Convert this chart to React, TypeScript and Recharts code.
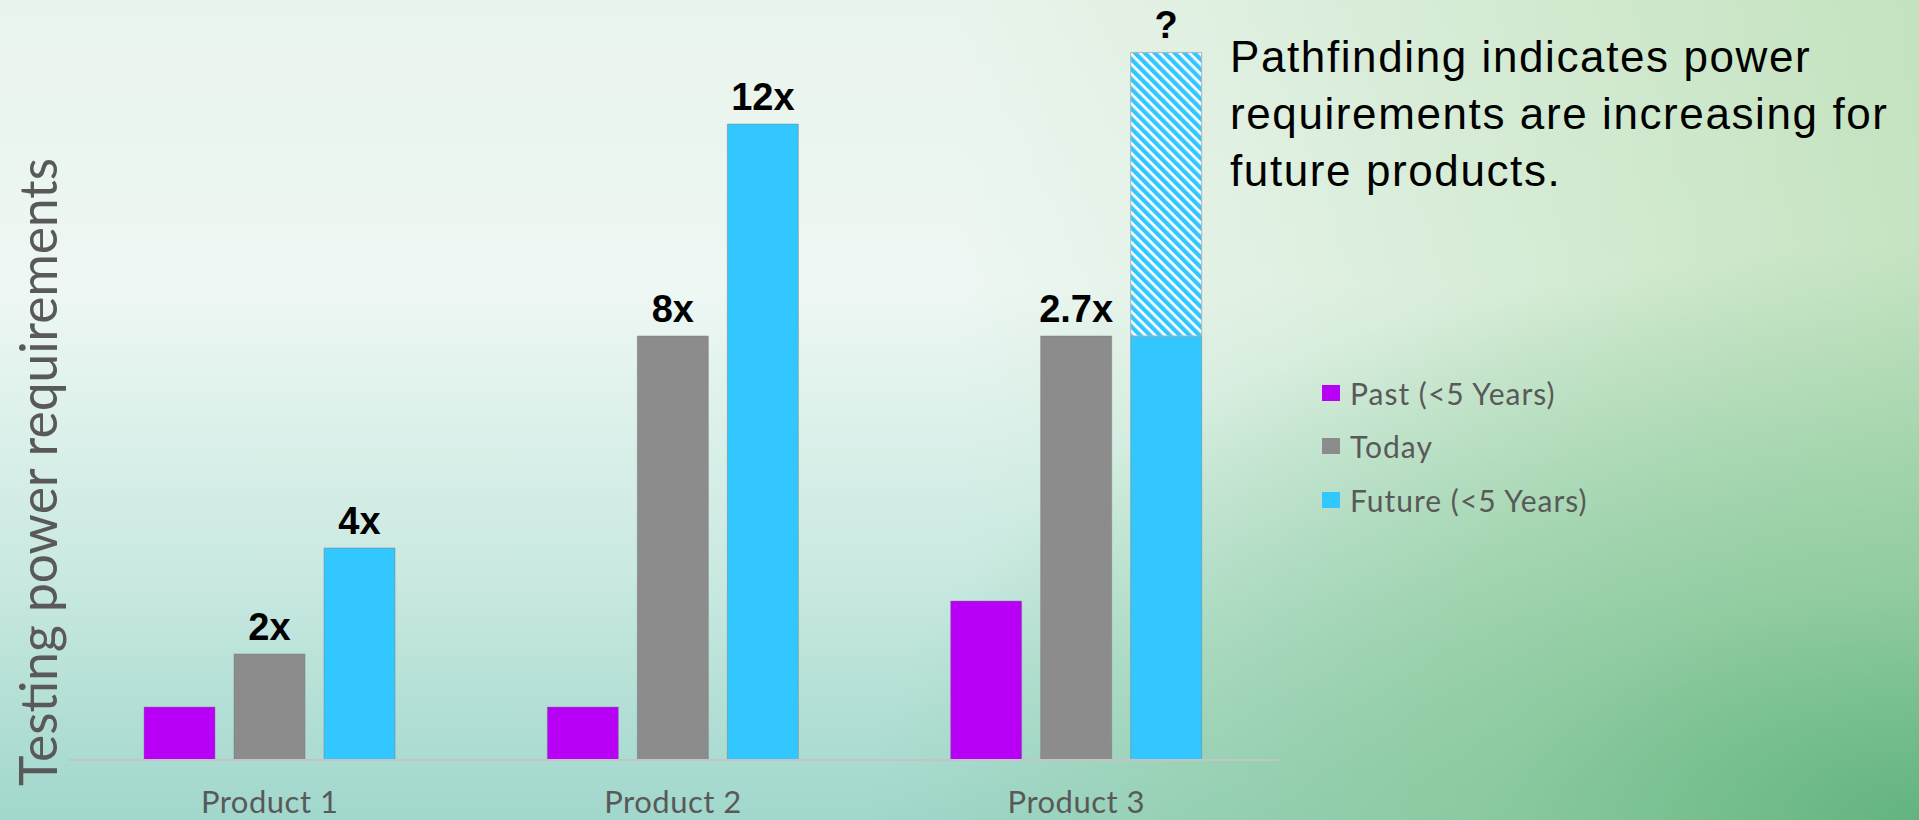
import React from "react";
import {
  BarChart,
  Bar,
  XAxis,
  YAxis,
  Legend,
  LabelList,
} from "recharts";

const categories = ["Product 1", "Product 2", "Product 3"];
const seriesNames = ["Past (<5 Years)", "Today", "Future (<5 Years)"];
const pastValues = [1, 1, 3];
const todayValues = [2, 8, 8];
const futureValues = [4, 12, 8];
const futureUnknownValues = [0, 0, 5.35];
const todayLabels = ["2x", "8x", "2.7x"];
const futureLabels = ["4x", "12x", ""];
const unknownLabels = ["", "", "?"];

const data = categories.map((name, i) => ({
  name,
  past: pastValues[i],
  today: todayValues[i],
  future: futureValues[i],
  unknown: futureUnknownValues[i],
  todayLabel: todayLabels[i],
  futureLabel: futureLabels[i],
  unknownLabel: unknownLabels[i],
}));

const PURPLE = "#b900f6";
const GREY = "#8c8c8c";
const BLUE = "#33c7ff";
const LATO = "Lato, 'Open Sans', sans-serif";
const ARIAL = "'Liberation Sans', Arial, sans-serif";
const LEGEND_WIDTH = 400;

const barLabelStyle = {
  fill: "#000",
  fontSize: 38,
  fontWeight: 700,
  fontFamily: ARIAL,
};

const renderLegend = ({ payload }: any) => {
  const items = (payload || [])
    .filter((p: any) => seriesNames.includes(p.value))
    .sort((a: any, b: any) => seriesNames.indexOf(a.value) - seriesNames.indexOf(b.value));
  return (
    <div style={{ fontFamily: LATO, fontSize: 30, letterSpacing: 1, color: "#595959" }}>
      {items.map((p: any) => (
        <div key={p.value} style={{ display: "flex", alignItems: "center", height: 53.5 }}>
          <span
            style={{
              display: "inline-block",
              width: 18,
              height: 16,
              background: p.color,
              marginRight: 10,
            }}
          />
          <span>{p.value}</span>
        </div>
      ))}
    </div>
  );
};

const renderYLabel = () => (
  <text
    x={57}
    y={472}
    transform="rotate(-90 57 472)"
    textAnchor="middle"
    fill="#595959"
    fontSize={51.5}
    fontFamily={LATO}
  >
    Testing power requirements
  </text>
);

export default function App() {
  return (
    <div
      style={{
        position: "fixed",
        left: 0,
        top: 0,
        width: 1919,
        height: 820,
        overflow: "hidden",
        background:
          "radial-gradient(ellipse 55% 70% at 100% 100%, rgba(95,178,125,0.95) 0%, rgba(120,192,140,0.6) 40%, rgba(150,205,160,0) 100%)," +
          "linear-gradient(to right, rgba(255,255,255,0) 50%, rgba(170,215,160,0.6) 100%)," +
          "linear-gradient(to bottom, #e9f4ec 0%, #eef7f3 35%, #c9e9e1 70%, #a1d7cc 100%)",
      }}
    >
      <BarChart
        width={1919}
        height={820}
        data={data}
        margin={{ top: 18, right: 641 - LEGEND_WIDTH, bottom: 0, left: 0 }}
        barSize={71}
        barGap={19}
      >
        <defs>
          <pattern
            id="hatch"
            patternUnits="userSpaceOnUse"
            width={7}
            height={7}
            patternTransform="rotate(-45)"
          >
            <rect x={0} y={0} width={7} height={7} fill="#ffffff" />
            <rect x={0} y={0} width={4.3} height={7} fill={BLUE} />
          </pattern>
        </defs>
        <XAxis
          dataKey="name"
          height={60}
          axisLine={{ stroke: "#c4c4c4", strokeWidth: 2 }}
          tickLine={false}
          tickMargin={25}
          tick={{ fill: "#595959", fontSize: 31, letterSpacing: 0.5, fontFamily: LATO }}
        />
        <YAxis
          width={68}
          domain={[0, 14]}
          allowDataOverflow
          axisLine={false}
          tickLine={false}
          tick={false}
          label={{ content: renderYLabel }}
        />
        <Legend
          content={renderLegend}
          layout="vertical"
          align="right"
          verticalAlign="middle"
          wrapperStyle={{ left: 1322, top: 366, width: LEGEND_WIDTH }}
        />
        <Bar
          dataKey="past"
          name={seriesNames[0]}
          stackId="past"
          fill={PURPLE}
          stroke="rgba(120,120,120,0.45)"
          strokeWidth={1}
          isAnimationActive={false}
        />
        <Bar
          dataKey="today"
          name={seriesNames[1]}
          stackId="today"
          fill={GREY}
          stroke="rgba(120,120,120,0.45)"
          strokeWidth={1}
          isAnimationActive={false}
        >
          <LabelList dataKey="todayLabel" position="top" offset={14} style={barLabelStyle} />
        </Bar>
        <Bar
          dataKey="future"
          name={seriesNames[2]}
          stackId="future"
          fill={BLUE}
          stroke="rgba(120,120,120,0.45)"
          strokeWidth={1}
          isAnimationActive={false}
        >
          <LabelList dataKey="futureLabel" position="top" offset={14} style={barLabelStyle} />
        </Bar>
        <Bar
          dataKey="unknown"
          name="Future (unknown)"
          stackId="future"
          fill="url(#hatch)"
          stroke="#b4b4b4"
          strokeWidth={1}
          legendType="none"
          isAnimationActive={false}
        >
          <LabelList dataKey="unknownLabel" position="top" offset={14} style={barLabelStyle} />
        </Bar>
      </BarChart>
      <div
        style={{
          position: "absolute",
          left: 1230,
          top: 28,
          fontFamily: ARIAL,
          fontSize: 44,
          letterSpacing: 1.6,
          lineHeight: "57px",
          color: "#000",
          whiteSpace: "nowrap",
        }}
      >
        Pathfinding indicates power
        <br />
        requirements are increasing for
        <br />
        future products.
      </div>
    </div>
  );
}
